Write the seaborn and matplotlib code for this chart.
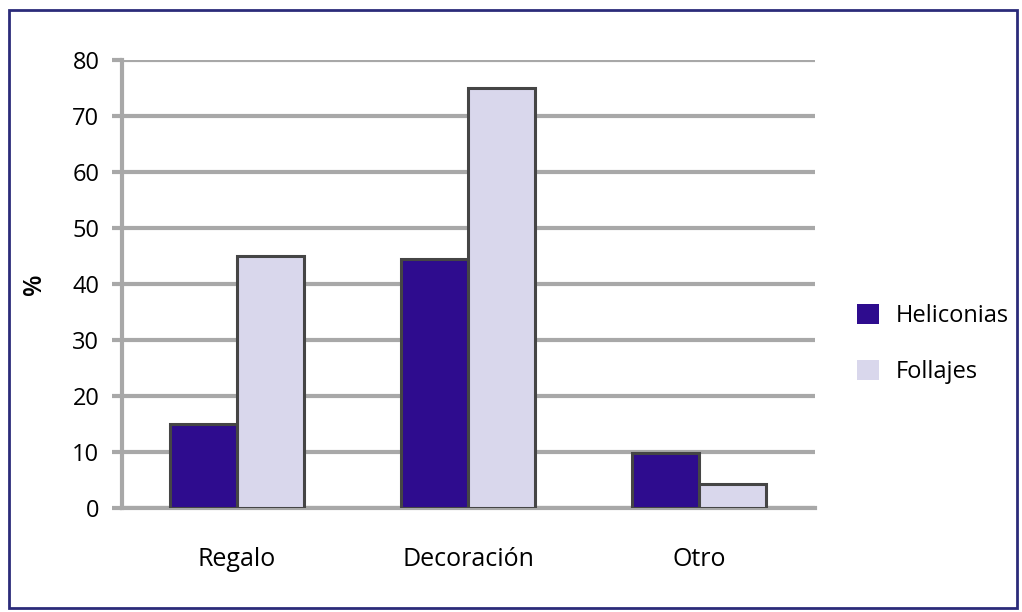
import pandas as pd
import seaborn as sns
import matplotlib.pyplot as plt
from matplotlib.patches import Rectangle

# datos
categorias = ["Regalo", "Decoración", "Otro"]
heliconias = [15, 44.5, 9.8]
follajes = [45, 75, 4.3]
series = ["Heliconias", "Follajes"]
ticks_y = [0, 10, 20, 30, 40, 50, 60, 70, 80]

df = pd.DataFrame({
    "categoria": categorias * 2,
    "valor": heliconias + follajes,
    "tipo": [series[0]] * 3 + [series[1]] * 3,
})

sns.set_style("white")
plt.rcParams["font.family"] = ["Open Sans", "DejaVu Sans"]
plt.rcParams["text.color"] = "black"

fig = plt.figure(figsize=(10.22, 6.12), dpi=100)
ax = fig.add_axes([0.119, 0.170, 0.678, 0.732])

colores = {"Heliconias": "#2e0c8e", "Follajes": "#d9d7ec"}
sns.barplot(data=df, x="categoria", y="valor", hue="tipo", palette=colores,
            width=0.58, gap=0, edgecolor="#454545", linewidth=2.2,
            saturation=1, ax=ax, zorder=3)

ax.set_ylim(0, 80)
ax.set_xlim(-0.5, 2.5)
ax.set_yticks(ticks_y)
ax.yaxis.grid(True, color="#a8a8a8", linewidth=3, zorder=0)
ax.set_axisbelow(True)
ax.set_xlabel("")
ax.set_ylabel("%", fontsize=18, fontweight="semibold", labelpad=18, color="black")
ax.tick_params(axis="y", labelsize=17, length=7, width=3, color="#a8a8a8",
               pad=9, left=True, labelcolor="black")
ax.tick_params(axis="x", labelsize=18, length=0, pad=28, labelcolor="black")

for s in ["top", "right"]:
    ax.spines[s].set_visible(False)
for s in ["left", "bottom"]:
    ax.spines[s].set_color("#a8a8a8")
    ax.spines[s].set_linewidth(3)

sns.move_legend(ax, "center left", bbox_to_anchor=(1.062, 0.366), frameon=False,
                title=None, fontsize=17, handlelength=0.9, handleheight=0.9,
                labelspacing=1.35, handletextpad=0.7, borderaxespad=0, borderpad=0)
for h in ax.get_legend().legend_handles:
    h.set_edgecolor("none")

# marco de la figura
fig.patches.append(Rectangle((0.009, 0.006), 0.986, 0.978, transform=fig.transFigure,
                             fill=False, edgecolor="#2b2b7a", linewidth=2))

fig.savefig("out.png", dpi=100)
